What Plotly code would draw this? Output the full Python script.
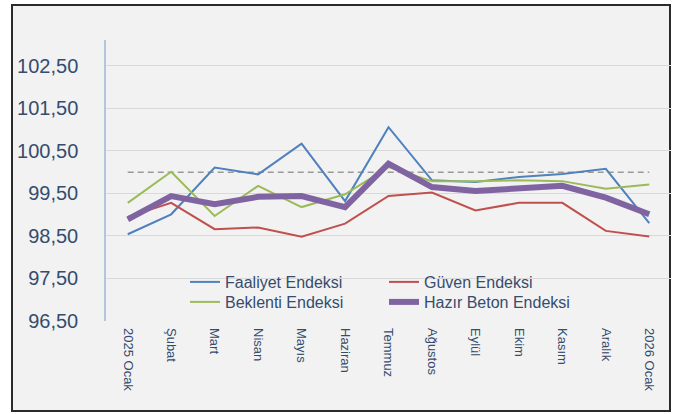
import plotly.graph_objects as go

categories = ["2025 Ocak", "Şubat", "Mart", "Nisan", "Mayıs", "Haziran", "Temmuz",
              "Ağustos", "Eylül", "Ekim", "Kasım", "Aralık", "2026 Ocak"]
faaliyet = [98.54, 99.01, 100.11, 99.95, 100.67, 99.32, 101.06, 99.81, 99.77, 99.89, 99.96, 100.08, 98.80]
guven = [98.95, 99.28, 98.66, 98.70, 98.48, 98.79, 99.44, 99.52, 99.10, 99.28, 99.28, 98.62, 98.49]
beklenti = [99.28, 100.01, 98.97, 99.68, 99.18, 99.48, 100.12, 99.79, 99.79, 99.81, 99.79, 99.61, 99.71]
hazir_beton = [98.89, 99.44, 99.25, 99.42, 99.44, 99.18, 100.20, 99.65, 99.56, 99.62, 99.68, 99.40, 99.01]
reference = [100.0] * len(categories)
ytick_vals = [96.5, 97.5, 98.5, 99.5, 100.5, 101.5, 102.5]
ytick_text = ["96,50", "97,50", "98,50", "99,50", "100,50", "101,50", "102,50"]

W, H = 678, 414
ml, mr, mt, mb = 106, 7, 40, 93
pw, ph = W - ml - mr, H - mt - mb

def px_x(p):
    return (p - ml) / pw

def px_y(p):
    return (H - mb - p) / ph

txt = "#354c6e"
fig = go.Figure()
fig.add_trace(go.Scatter(x=categories, y=reference, mode="lines", showlegend=False,
                         line=dict(color="#9a9a9a", width=1.6, dash="6px,4px"), hoverinfo="skip"))
fig.add_trace(go.Scatter(x=categories, y=faaliyet, mode="lines", name="Faaliyet Endeksi",
                         line=dict(color="#4f81bd", width=2), legend="legend"))
fig.add_trace(go.Scatter(x=categories, y=guven, mode="lines", name="Güven Endeksi",
                         line=dict(color="#c0504d", width=2), legend="legend"))
fig.add_trace(go.Scatter(x=categories, y=beklenti, mode="lines", name="Beklenti Endeksi",
                         line=dict(color="#9bbb59", width=2), legend="legend2"))
fig.add_trace(go.Scatter(x=categories, y=hazir_beton, mode="lines", name="Hazır Beton Endeksi",
                         line=dict(color="#8064a2", width=6), legend="legend2"))

leg_common = dict(orientation="h", xanchor="left", yanchor="middle",
                  entrywidth=154, entrywidthmode="pixels", bgcolor="rgba(0,0,0,0)",
                  font=dict(size=16, color=txt), itemwidth=30)

fig.update_layout(
    width=W, height=H,
    margin=dict(l=ml, r=mr, t=mt, b=mb, pad=0),
    paper_bgcolor="white",
    plot_bgcolor="#f2f2f2",
    font=dict(family="Liberation Sans, Arial, sans-serif", color=txt),
    shapes=[dict(type="rect", xref="paper", yref="paper", layer="below",
                 x0=px_x(12), x1=px_x(670), y0=px_y(411), y1=px_y(5),
                 fillcolor="#f2f2f2", line=dict(color="#2b2b2b", width=2))],
    legend=dict(x=px_x(185), y=px_y(282), **leg_common),
    legend2=dict(x=px_x(185), y=px_y(302), **leg_common),
    xaxis=dict(type="category", range=[-0.5, 12.5], tickangle=90, showgrid=False,
               showline=False, zeroline=False, ticks="", tickfont=dict(size=13, color=txt),
               ticklabelstandoff=6),
    yaxis=dict(range=[96.5, 103.11], tickvals=ytick_vals, ticktext=ytick_text,
               showgrid=True, gridcolor="#d9d9d9", gridwidth=1, zeroline=False,
               showline=True, linecolor="#b4c6dc", linewidth=1.5, ticks="",
               tickfont=dict(size=20, color=txt), ticklabelstandoff=22),
)
fig.write_html("out.html", config={"displayModeBar": False},
               post_script="document.body.style.margin='0px';document.body.style.overflow='hidden';")
